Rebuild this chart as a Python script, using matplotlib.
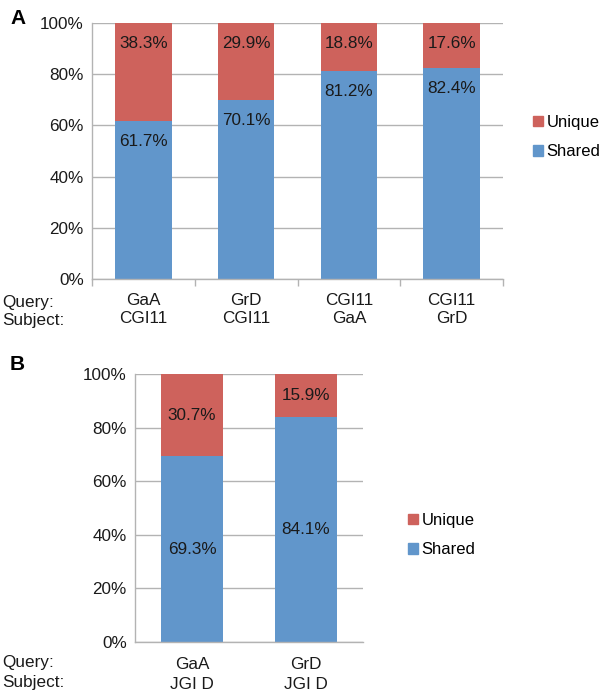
import matplotlib
matplotlib.use("Agg")
import matplotlib.pyplot as plt
from matplotlib.patches import Patch
import numpy as np

plt.rcParams['font.family'] = ['Liberation Sans', 'DejaVu Sans']

# Panel A data
a_query = ["GaA", "GrD", "CGI11", "CGI11"]
a_subject = ["CGI11", "CGI11", "GaA", "GrD"]
a_shared = [61.7, 70.1, 81.2, 82.4]
a_unique = [38.3, 29.9, 18.8, 17.6]

# Panel B data
b_query = ["GaA", "GrD"]
b_subject = ["JGI D", "JGI D"]
b_shared = [69.3, 84.1]
b_unique = [30.7, 15.9]

yticks = [0, 20, 40, 60, 80, 100]
ytick_labels = ["0%", "20%", "40%", "60%", "80%", "100%"]

RED = "#CE625C"
BLUE = "#6196CB"
GRID = "#B3B3B3"
TXT = "#1a1a1a"
FS = 12.3
LFS = 12

fig = plt.figure(figsize=(6.0, 6.92), dpi=100)


def style_axes(ax, n, boundary_ticks):
    ax.set_ylim(0, 100)
    ax.set_xlim(-0.5, n - 0.5)
    ax.set_yticks(yticks)
    ax.set_yticklabels(ytick_labels, fontsize=FS, color=TXT)
    ax.yaxis.grid(True, color=GRID, linewidth=1.0)
    ax.set_axisbelow(True)
    for s in ["top", "right"]:
        ax.spines[s].set_visible(False)
    for s in ["left", "bottom"]:
        ax.spines[s].set_color(GRID)
        ax.spines[s].set_linewidth(1.0)
    ax.tick_params(axis="y", length=0, pad=6)
    ax.tick_params(axis="x", length=0)
    if boundary_ticks:
        ax.set_xticks(np.arange(n + 1) - 0.5, minor=True)
        ax.tick_params(axis="x", which="minor", length=5, color=GRID, width=1.0)


def add_legend(x_px, y_px):
    fig.legend(handles=[Patch(color=RED, label="Unique"), Patch(color=BLUE, label="Shared")],
               loc="center left", bbox_to_anchor=(x_px / 600, 1 - y_px / 692),
               frameon=False, fontsize=LFS, handlelength=0.6, handleheight=0.6,
               handletextpad=0.2, labelspacing=0.85, borderaxespad=0, borderpad=0)


# Panel A
axA = fig.add_axes([92 / 600, 1 - 279 / 692, 411 / 600, 256 / 692])
x = np.arange(len(a_shared))
axA.bar(x, a_shared, width=0.55, color=BLUE, label="Shared")
axA.bar(x, a_unique, width=0.55, bottom=a_shared, color=RED, label="Unique")
style_axes(axA, len(a_shared), True)
axA.set_xticks(x)
axA.set_xticklabels([f"{q}\n{s}" for q, s in zip(a_query, a_subject)],
                    fontsize=FS, color=TXT, linespacing=1.27)
axA.tick_params(axis="x", which="major", pad=10)
for i in range(len(x)):
    axA.annotate(f"{a_shared[i]:.1f}%", (x[i], a_shared[i]), xytext=(0, -15),
                 textcoords="offset points", ha="center", va="center",
                 fontsize=FS, color=TXT)
    axA.annotate(f"{a_unique[i]:.1f}%", (x[i], 100), xytext=(0, -15),
                 textcoords="offset points", ha="center", va="center",
                 fontsize=FS, color=TXT)
add_legend(533, 137)
fig.text(2 / 600, 1 - 302 / 692, "Query:", fontsize=FS, color=TXT, va="center")
fig.text(2 / 600, 1 - 320 / 692, "Subject:", fontsize=FS, color=TXT, va="center")
fig.text(10 / 600, 1 - 18 / 692, "A", fontsize=15, fontweight="bold", va="center")

# Panel B
axB = fig.add_axes([135 / 600, 1 - 642 / 692, 228 / 600, 268 / 692])
xb = np.arange(len(b_shared))
axB.bar(xb, b_shared, width=0.55, color=BLUE)
axB.bar(xb, b_unique, width=0.55, bottom=b_shared, color=RED)
style_axes(axB, len(b_shared), False)
axB.set_xticks(xb)
axB.set_xticklabels([f"{q}\n{s}" for q, s in zip(b_query, b_subject)],
                    fontsize=FS, color=TXT, linespacing=1.4)
axB.tick_params(axis="x", pad=11)
for i in range(len(xb)):
    axB.text(xb[i], b_shared[i] / 2, f"{b_shared[i]:.1f}%", ha="center", va="center",
             fontsize=FS, color=TXT)
    axB.text(xb[i], b_shared[i] + b_unique[i] / 2, f"{b_unique[i]:.1f}%", ha="center",
             va="center", fontsize=FS, color=TXT)
add_legend(408, 535)
fig.text(2 / 600, 1 - 662 / 692, "Query:", fontsize=FS, color=TXT, va="center")
fig.text(2 / 600, 1 - 682 / 692, "Subject:", fontsize=FS, color=TXT, va="center")
fig.text(10 / 600, 1 - 364 / 692, "B", fontsize=15, fontweight="bold", va="center")

fig.savefig("out.png", dpi=100)
